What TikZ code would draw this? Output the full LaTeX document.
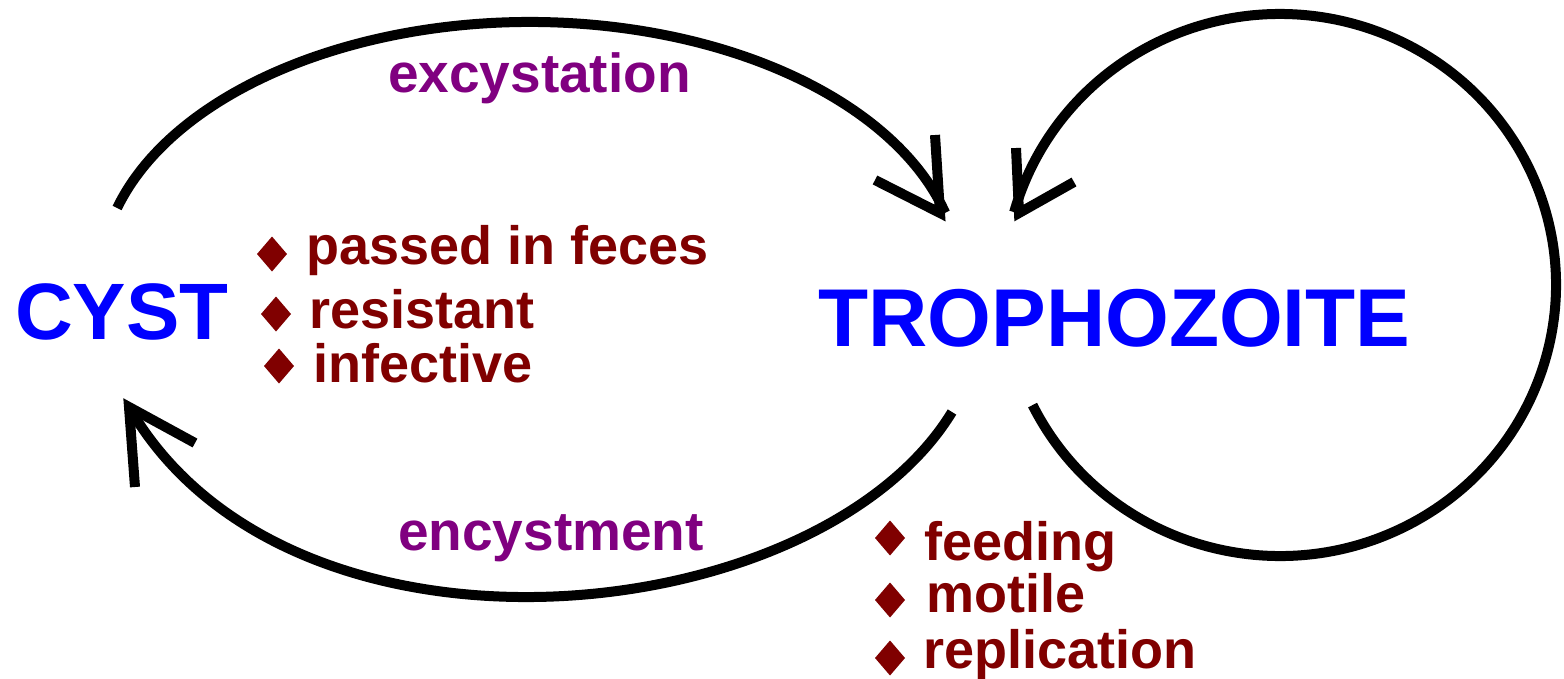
\documentclass[tikz,border=0pt]{standalone}
\usepackage{fontspec}
\setmainfont{Liberation Sans}
\definecolor{cblue}{HTML}{0000FF}
\definecolor{cred}{HTML}{800000}
\definecolor{cpurple}{HTML}{800080}
\begin{document}
\begin{tikzpicture}[x=1pt,y=-1pt,
  arc/.style={line width=10pt,black},
  barb/.style={line width=10pt,black,line cap=butt,line join=miter},
  big/.style={anchor=base west,inner sep=0pt,text=cblue,font=\bfseries\fontsize{80}{80}\selectfont},
  lbl/.style={anchor=base west,inner sep=0pt,text=cpurple,font=\bfseries\fontsize{55}{55}\selectfont},
  item/.style={anchor=base west,inner sep=0pt,text=cred,font=\bfseries\fontsize{54}{54}\selectfont},
  bul/.style={fill=cred,draw=none}]
\useasboundingbox (0,0) rectangle (1564,678);
\fill[white] (0,0) rectangle (1564,678);

% main labels
\node[big] (cyst) at (15,339) {CYST};
\node[big,font=\bfseries\fontsize{82}{82}\selectfont] (tropho) at (818,346) {TROPHOZOITE};
\node[lbl] (exc) at (388,92) {excystation};
\node[lbl] (enc) at (398,550) {encystment};

% items near cyst
\node[item] (i1) at (306,264) {passed in feces};
\node[item] (i2) at (309,328) {resistant};
\node[item] (i3) at (313,382) {infective};
% items near trophozoite
\node[item] (j1) at (924,560) {feeding};
\node[item] (j2) at (926,612) {motile};
\node[item] (j3) at (923,668) {replication};

% bullets
\foreach \cx/\cy in {272/254, 276/314, 279/366, 890/538, 890/600, 890/658}
  \fill[bul] (\cx-15,\cy) -- (\cx,\cy-17.5) -- (\cx+15,\cy) -- (\cx,\cy+17.5) -- cycle;

% top arc: cyst -> trophozoite (excystation)
\coordinate (topc) at (530,280);
\coordinate (t1) at (940,213);
\draw[arc] (topc) ++(163.8:430pt and 258pt) arc[start angle=163.8, end angle=15.1, x radius=430pt, y radius=258pt];
\draw[barb] (935,135) -- (t1) -- (875,180);

% right loop: trophozoite -> trophozoite
\coordinate (loopc) at (1280,285);
\coordinate (r1) at (1019,213);
\draw[arc] (loopc) ++(-153.7:276pt and 271pt) arc[start angle=-153.7, end angle=164.4, x radius=276pt, y radius=271pt];
\draw[barb] (1016,148) -- (r1) -- (1074,182);

% bottom arc: trophozoite -> cyst (encystment)
\coordinate (b0) at (952,412);
\coordinate (b1) at (129,407);
\draw[arc] (b0) .. controls (817,633) and (289,685) .. (b1);
\draw[barb] (135,487) -- (b1) -- (195,443);
\end{tikzpicture}
\end{document}
